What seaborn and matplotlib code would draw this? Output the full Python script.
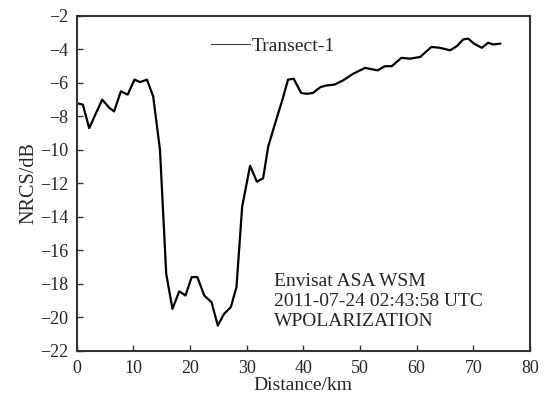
import pandas as pd
import matplotlib
matplotlib.use("Agg")
import matplotlib.pyplot as plt
import seaborn as sns

# Transect-1 NRCS profile
distance_km = [0.0, 1.1, 2.2, 4.5, 5.8, 6.6, 7.8, 9.0, 10.2, 11.2, 12.4, 13.5,
               14.7, 15.8, 16.9, 18.1, 19.2, 20.3, 21.3, 22.5, 23.8, 24.9,
               26.0, 27.2, 28.2, 29.2, 30.6, 31.8, 32.9, 33.8, 35.3, 36.4,
               37.3, 38.3, 39.6, 40.6, 41.7, 43.0, 44.1, 45.5, 47.0, 48.8,
               50.9, 53.1, 54.4, 55.6, 57.3, 58.8, 60.6, 62.6, 64.1, 65.9,
               67.1, 68.2, 69.1, 70.1, 71.5, 72.6, 73.5, 74.8]
nrcs_db = [-7.2, -7.3, -8.7, -7.0, -7.5, -7.7, -6.5, -6.7, -5.8, -5.95, -5.8,
           -6.8, -10.0, -17.4, -19.5, -18.45, -18.7, -17.6, -17.6, -18.7,
           -19.1, -20.5, -19.8, -19.4, -18.2, -13.4, -10.95, -11.9, -11.7,
           -9.8, -8.1, -6.9, -5.8, -5.75, -6.6, -6.65, -6.6, -6.25, -6.15,
           -6.1, -5.85, -5.45, -5.1, -5.25, -5.0, -5.0, -4.5, -4.55, -4.45,
           -3.85, -3.9, -4.05, -3.8, -3.4, -3.35, -3.65, -3.9, -3.6, -3.7,
           -3.65]

df = pd.DataFrame({"Distance/km": distance_km, "NRCS/dB": nrcs_db})

sns.set_style("white")
plt.rcParams["font.family"] = ["Liberation Serif", "DejaVu Serif"]

fig = plt.figure(figsize=(5.45, 3.97), dpi=100)
ax = fig.add_axes([0.1407, 0.1166, 0.8318, 0.8431])

sns.lineplot(data=df, x="Distance/km", y="NRCS/dB", ax=ax, color="black",
             linewidth=1.6, label="Transect-1")

ax.set_xlim(0, 80)
ax.set_ylim(-22, -2)
ax.set_xticks(range(0, 81, 10))
ax.set_yticks(range(-22, -1, 2))
ax.tick_params(bottom=True, left=True, direction="in", length=4, width=1,
               labelsize=13, color="#333333")
ax.tick_params(axis="x", pad=7)
ax.tick_params(axis="y", pad=6)
ax.set_xlabel("Distance/km", fontsize=14, labelpad=0)
ax.set_ylabel("NRCS/dB", fontsize=14.5, labelpad=1)
for s in ax.spines.values():
    s.set_color("#333333")
    s.set_linewidth(1.5)

leg = ax.legend(loc="center left", bbox_to_anchor=(0.28, 0.91), frameon=False,
                fontsize=14, handlelength=2.0, handletextpad=0.05,
                borderaxespad=0)
for h in leg.get_lines():
    h.set_linewidth(0.8)
    h.set_color("#444444")

ax.text(0.435, 0.147,
        "Envisat ASA WSM\n2011-07-24 02:43:58 UTC\nWPOLARIZATION",
        transform=ax.transAxes, fontsize=14, va="center", ha="left",
        linespacing=1.2)

fig.savefig("out.png", dpi=100)
